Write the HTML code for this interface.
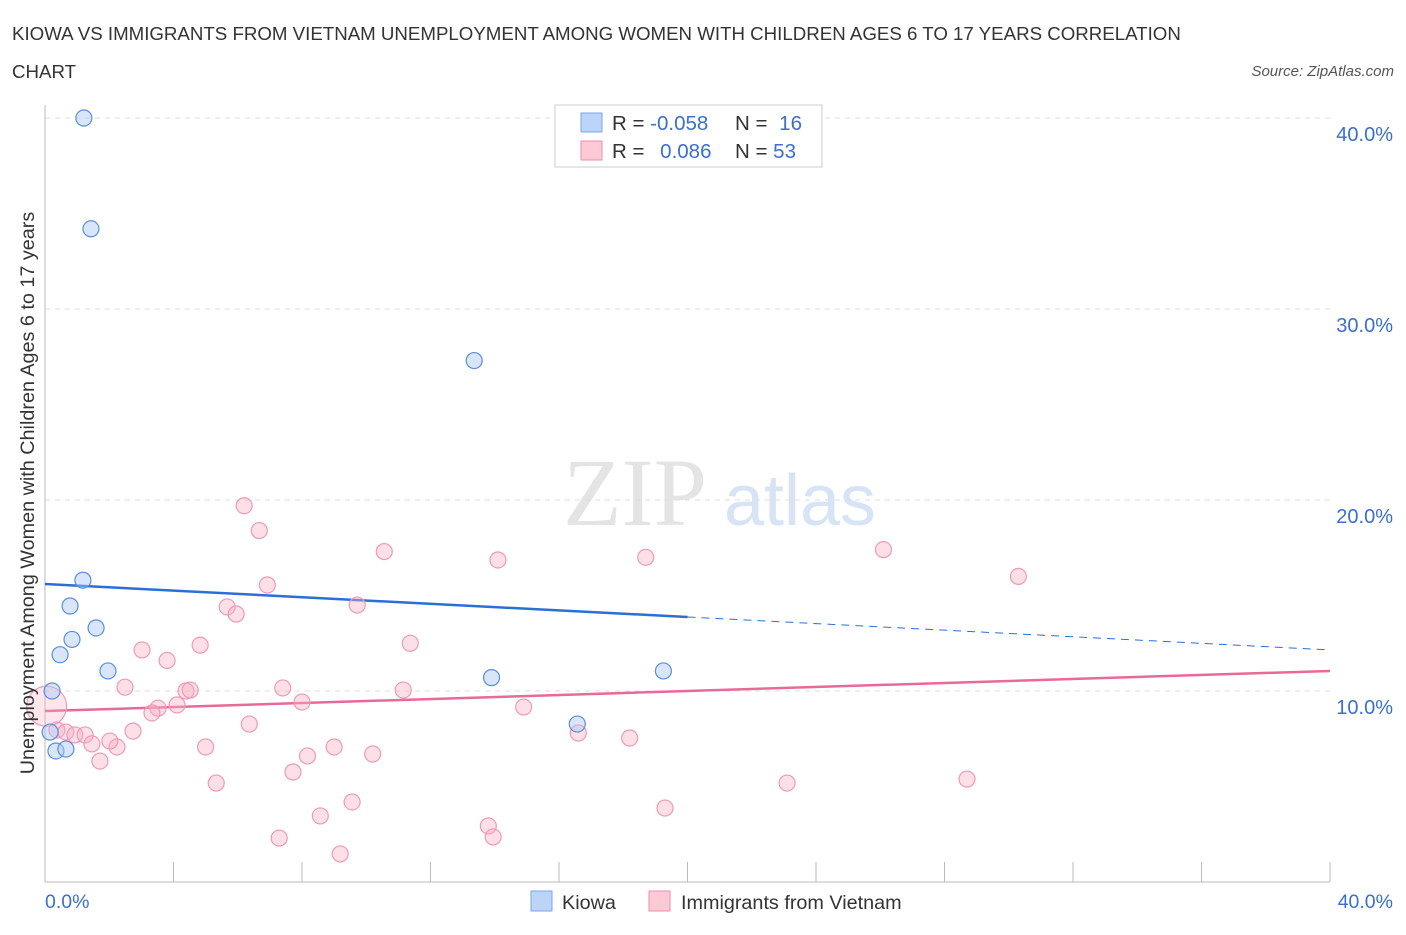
<!DOCTYPE html>
<html><head><meta charset="utf-8"><style>
body{margin:0;background:#fff;font-family:"Liberation Sans",sans-serif;}
</style></head><body>
<svg width="1406" height="930" xmlns="http://www.w3.org/2000/svg">
<text x="12" y="40" font-size="18.7" fill="#333">KIOWA VS IMMIGRANTS FROM VIETNAM UNEMPLOYMENT AMONG WOMEN WITH CHILDREN AGES 6 TO 17 YEARS CORRELATION</text>
<text x="12" y="78" font-size="18.7" fill="#333">CHART</text>
<text x="1394" y="76" font-size="15" font-style="italic" fill="#555" text-anchor="end">Source: ZipAtlas.com</text>
<g>
<text x="635" y="525" font-size="96" font-family="Liberation Serif" fill="#e4e4e4" text-anchor="middle">ZIP</text>
<text x="800" y="525" font-size="72" fill="#d6e4f5" text-anchor="middle">atlas</text>
</g>
<g id="grid"></g>
<g id="axes"></g>
<g id="lines"></g>
<g id="pts"></g>
<text x="34" y="493" font-size="19.8" fill="#333" text-anchor="middle" transform="rotate(-90 34 493)">Unemployment Among Women with Children Ages 6 to 17 years</text>
<text x="45" y="908" font-size="19.5" fill="#3a6fd0">0.0%</text>
<text x="1393" y="908" font-size="19.5" fill="#3a6fd0" text-anchor="end">40.0%</text>
<g>
<rect x="555" y="105" width="267" height="62" fill="#fff" stroke="#ccc"/>
<rect x="581" y="113" width="21" height="19" fill="#bcd4f7" stroke="#7aa6e8"/>
<rect x="581" y="141" width="21" height="19" fill="#fcc9d7" stroke="#ee8eab"/>
<text x="612" y="130" font-size="20.5" fill="#333">R = <tspan fill="#3a6fd0">-0.058</tspan></text>
<text x="735" y="130" font-size="20.5" fill="#333">N = <tspan fill="#3a6fd0" dx="6">16</tspan></text>
<text x="612" y="158" font-size="20.5" fill="#333">R = <tspan fill="#3a6fd0" dx="10">0.086</tspan></text>
<text x="735" y="158" font-size="20.5" fill="#333">N = <tspan fill="#3a6fd0">53</tspan></text>
</g>
<g>
<rect x="531" y="891" width="21" height="20" fill="#bcd4f7" stroke="#7aa6e8"/>
<text x="562" y="909" font-size="19.8" fill="#333">Kiowa</text>
<rect x="649" y="891" width="21" height="20" fill="#fcc9d7" stroke="#ee8eab"/>
<text x="681" y="909" font-size="19.8" fill="#333">Immigrants from Vietnam</text>
</g>
</svg>
<script>
const yTicks=[10,20,30,40];
const yTickLabels=["10.0%","20.0%","30.0%","40.0%"];
const kiowaX=[1.21,1.43,13.36,1.18,0.78,1.59,0.84,0.47,1.96,0.22,13.9,19.25,16.57,0.16,0.34,0.65];
const kiowaY=[40,34.2,27.3,15.8,14.45,13.3,12.7,11.9,11.05,10,10.7,11.05,8.27,7.85,6.86,6.96];
const vietX=[6.2,6.67,10.56,14.1,18.7,26.1,30.3,6.92,5.67,5.95,9.72,11.37,4.83,3.02,3.8,2.49,4.39,4.52,7.4,11.15,8.0,4.11,3.52,3.33,14.9,6.36,2.74,16.6,18.2,0.37,0.65,0.93,1.25,1.46,2.24,2.02,5.0,9.0,10.2,8.17,1.71,7.72,5.33,23.1,28.7,9.56,19.3,8.57,13.8,13.95,7.29,9.19,0.05];
const vietY=[19.7,18.4,17.3,16.86,17.0,17.4,16.0,15.55,14.4,14.03,14.5,12.5,12.4,12.15,11.6,10.2,10,10.05,10.16,10.05,9.42,9.27,9.1,8.85,9.16,8.27,7.9,7.8,7.54,7.96,7.85,7.7,7.7,7.23,7.07,7.38,7.07,7.07,6.7,6.6,6.33,5.76,5.18,5.18,5.39,4.19,3.87,3.46,2.93,2.36,2.3,1.47,9.2];
const kiowaTrend=[15.6,12.15];
const vietTrend=[8.95,11.05];
const X=v=>45+v*32.125, Y=v=>882-v*19.1;
const NS="http://www.w3.org/2000/svg";
function mk(p,t,a){const e=document.createElementNS(NS,t);for(const k in a)e.setAttribute(k,a[k]);document.getElementById(p).appendChild(e);return e;}
yTicks.forEach((t,i)=>{
 const l=mk('grid','line',{x1:45,x2:1330,y1:Y(t),y2:Y(t),stroke:'#ddd','stroke-dasharray':'5,5'});
 
 
 const tx=mk('grid','text',{x:1393,y:Y(t)+23,'font-size':20,fill:'#3a6fd0','text-anchor':'end'});
 tx.textContent=yTickLabels[i];
 
 
});
mk('axes','line',{x1:45,x2:45,y1:105,y2:882,stroke:'#bbb'});
mk('axes','line',{x1:45,x2:1330,y1:882,y2:882,stroke:'#bbb'});
for(let i=0;i<=10;i++){const t=mk('axes','line',{x1:X(i*4),x2:X(i*4),y1:862,y2:882,stroke:'#bbb'});
 
 }
const kx=20;
let l=mk('lines','line',{x1:X(0),y1:Y(kiowaTrend[0]),x2:X(kx),y2:Y(kiowaTrend[0]+(kiowaTrend[1]-kiowaTrend[0])*kx/40),stroke:'#2a6fd6','stroke-width':2.5});


l=mk('lines','line',{x1:X(kx),y1:Y(kiowaTrend[0]+(kiowaTrend[1]-kiowaTrend[0])*kx/40),x2:X(40),y2:Y(kiowaTrend[1]),stroke:'#2a6fd6','stroke-width':1,'stroke-dasharray':'8,6'});


l=mk('lines','line',{x1:X(0),y1:Y(vietTrend[0]),x2:X(40),y2:Y(vietTrend[1]),stroke:'#e8699a','stroke-width':2.5});


vietX.forEach((x,i)=>{const c=mk('pts','circle',{cx:X(x),cy:Y(vietY[i]),r:i==vietX.length-1?20:8,fill:i==vietX.length-1?'rgba(248,175,196,0.3)':'rgba(248,175,196,0.4)',stroke:'#ee9ab4','stroke-width':1.2});
 
 });
kiowaX.forEach((x,i)=>{const c=mk('pts','circle',{cx:X(x),cy:Y(kiowaY[i]),r:8,fill:'rgba(170,200,245,0.45)',stroke:'#5a8fdc','stroke-width':1.2});
 
 });
</script>
</body></html>
